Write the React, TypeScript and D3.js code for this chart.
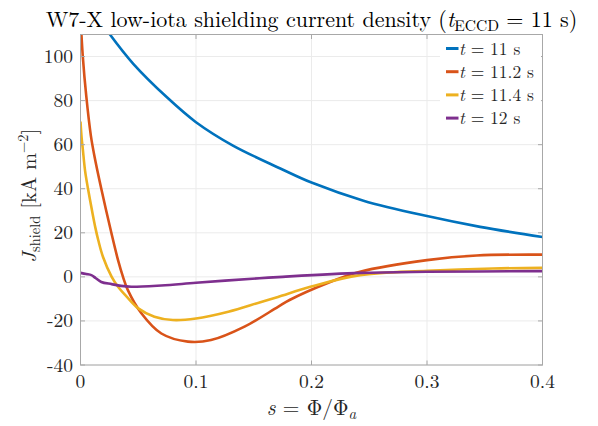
import React from "react";
import * as d3 from "d3";

const xTicks = [0, 0.1, 0.2, 0.3, 0.4];
const yTicks = [-40, -20, 0, 20, 40, 60, 80, 100];
const seriesNames = ["t = 11 s", "t = 11.2 s", "t = 11.4 s", "t = 12 s"];
const seriesColors = ["#0072BD", "#D95319", "#EDB120", "#7E2F8E"];

const sBlue = [0.015, 0.0255, 0.0457, 0.0746, 0.1, 0.132, 0.173, 0.2, 0.245, 0.3, 0.346, 0.4];
const vBlue = [118, 110, 96.7, 81.6, 70.2, 59.6, 49.2, 42.8, 34.6, 27.6, 22.7, 18.1];

const sRed = [0, 0.002, 0.005, 0.009, 0.012, 0.018, 0.0267, 0.0325, 0.0368, 0.041, 0.0527, 0.07, 0.093, 0.113, 0.142, 0.171, 0.181, 0.213, 0.242, 0.3, 0.343, 0.4];
const vRed = [118, 100, 82, 64, 55, 40, 20, 7.6, 0, -6, -16.5, -25.7, -29.4, -28.7, -22.6, -13.6, -10.5, -3, 2.3, 7.6, 9.7, 10.1];

const sYellow = [0, 0.001, 0.002, 0.004, 0.0065, 0.01, 0.013, 0.0154, 0.0195, 0.027, 0.0325, 0.04, 0.05, 0.064, 0.08, 0.1, 0.128, 0.155, 0.171, 0.199, 0.242, 0.3, 0.357, 0.4];
const vYellow = [70.5, 63, 58, 48, 40, 30, 22, 16.6, 9, 0, -4.5, -9, -14.3, -18.1, -19.6, -18.9, -15.8, -11.6, -9.1, -4.5, 0.8, 2.7, 3.8, 4.1];

const sPurple = [0, 0.005, 0.0094, 0.013, 0.018, 0.027, 0.035, 0.044, 0.07, 0.1, 0.155, 0.171, 0.242, 0.3, 0.4];
const vPurple = [1.8, 1.3, 0.8, -0.5, -2.3, -3.3, -4.1, -4.5, -3.9, -2.7, -0.6, -0.1, 1.8, 2.3, 2.6];

const seriesS = [sBlue, sRed, sYellow, sPurple];
const seriesV = [vBlue, vRed, vYellow, vPurple];

const W = 598, H = 426;
const M = { left: 80.5, right: 542.5, top: 34.5, bottom: 365 };
const FONT = "Latin Modern Roman";

export default function App() {
  const x = d3.scaleLinear().domain([0, 0.4]).range([M.left, M.right]);
  const y = d3.scaleLinear().domain([-40, 110]).range([M.bottom, M.top]);
  const line = d3.line<[number, number]>().x(d => x(d[0])).y(d => y(d[1])).curve(d3.curveCatmullRom.alpha(0.5));
  const tc = "#262626";
  const axc = "#a8a8a8";
  const legX = 446, legY0 = 48.5, legDy = 23.2;
  return (
    <svg width={W} height={H} style={{ position: "absolute", left: 0, top: 0, background: "#fff" }}>
      <defs>
        <clipPath id="plotclip">
          <rect x={M.left} y={M.top} width={M.right - M.left} height={M.bottom - M.top} />
        </clipPath>
      </defs>
      <rect x={0} y={0} width={W} height={H} fill="#fff" />
      {xTicks.map(t => (
        <line key={"gx" + t} x1={x(t)} x2={x(t)} y1={M.top} y2={M.bottom} stroke="#ebebeb" strokeWidth={1} />
      ))}
      {yTicks.map(t => (
        <line key={"gy" + t} x1={M.left} x2={M.right} y1={y(t)} y2={y(t)} stroke="#ebebeb" strokeWidth={1} />
      ))}
      <g clipPath="url(#plotclip)">
        {seriesS.map((ss, i) => (
          <path key={i} d={line(ss.map((s, j) => [s, seriesV[i][j]]) as [number, number][]) || ""}
            fill="none" stroke={seriesColors[i]} strokeWidth={2.6} strokeLinejoin="round" />
        ))}
      </g>
      <rect x={M.left} y={M.top} width={M.right - M.left} height={M.bottom - M.top} fill="none" stroke={axc} strokeWidth={1} />
      {xTicks.map(t => (
        <g key={"tx" + t}>
          <line x1={x(t)} x2={x(t)} y1={M.bottom} y2={M.bottom - 4.5} stroke={axc} />
          <line x1={x(t)} x2={x(t)} y1={M.top} y2={M.top + 4.5} stroke={axc} />
          <text x={x(t)} y={387.5} textAnchor="middle" fontSize={19.5} fontFamily={FONT} fill={tc}>{t === 0 ? "0" : t.toFixed(1)}</text>
        </g>
      ))}
      {yTicks.map(t => (
        <g key={"ty" + t}>
          <line x1={M.left} x2={M.left + 4.5} y1={y(t)} y2={y(t)} stroke={axc} />
          <line x1={M.right} x2={M.right - 4.5} y1={y(t)} y2={y(t)} stroke={axc} />
          <text x={73} y={y(t) + 6.5} textAnchor="end" fontSize={19.5} fontFamily={FONT} fill={tc}>{t < 0 ? "-" + Math.abs(t) : String(t)}</text>
        </g>
      ))}
      <text x={(M.left + M.right) / 2} y={27} textAnchor="middle" fontSize={22} fontFamily={FONT} fill="#000">
        <tspan>W7-X low-iota shielding current density (</tspan>
        <tspan fontStyle="italic">t</tspan>
        <tspan fontSize={15.5} dy={4}>ECCD</tspan>
        <tspan dy={-4}> = 11 s)</tspan>
      </text>
      <text x={(M.left + M.right) / 2} y={415} textAnchor="middle" fontSize={21.5} fontFamily={FONT} fill={tc}>
        <tspan fontStyle="italic">s</tspan>
        <tspan> = Φ/Φ</tspan>
        <tspan fontStyle="italic" fontSize={15} dy={4}>a</tspan>
      </text>
      <text transform={`translate(36, ${(M.top + M.bottom) / 2 - 4}) rotate(-90)`} textAnchor="middle" fontSize={20.5} fontFamily={FONT} fill={tc}>
        <tspan fontStyle="italic">J</tspan>
        <tspan fontSize={14.5} dy={4}>shield</tspan>
        <tspan dy={-4}> [kA m</tspan>
        <tspan fontSize={14.5} dy={-8}>−2</tspan>
        <tspan dy={8}>]</tspan>
      </text>
      <rect x={440} y={38} width={101} height={90} fill="#fff" />
      {seriesNames.map((n, i) => {
        const yy = legY0 + i * legDy;
        const parts = n.split(" = ");
        return (
          <g key={"leg" + i}>
            <line x1={legX} x2={legX + 12.5} y1={yy} y2={yy} stroke={seriesColors[i]} strokeWidth={3} />
            <text x={legX + 13} y={yy + 6} fontSize={17.5} fontFamily={FONT} fill={tc}>
              <tspan fontStyle="italic">t</tspan>
              <tspan> = {parts[1]}</tspan>
            </text>
          </g>
        );
      })}
    </svg>
  );
}
